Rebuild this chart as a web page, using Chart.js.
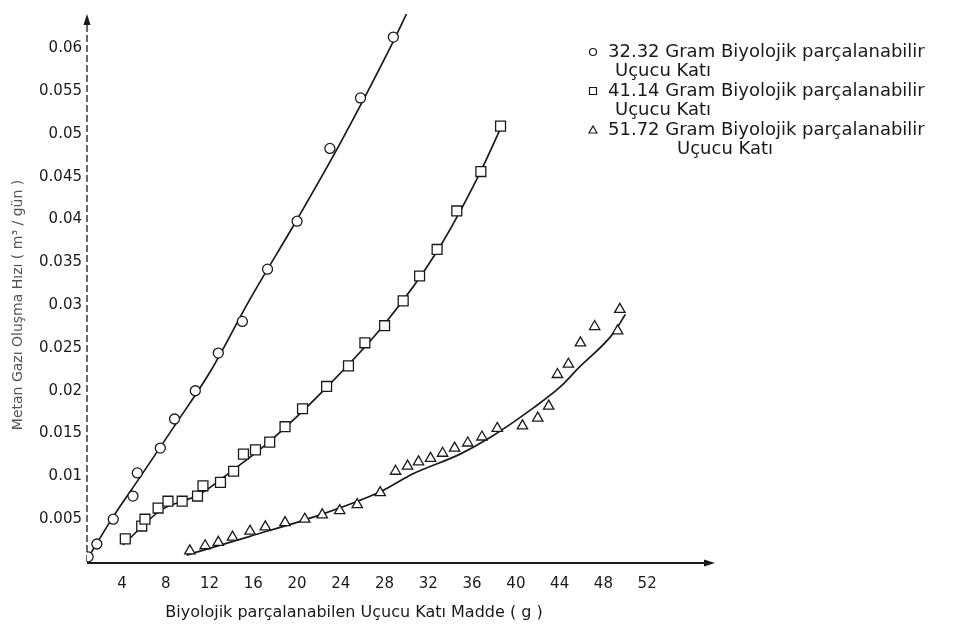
<!DOCTYPE html>
<html>
<head>
<meta charset="utf-8">
<title>Biyolojik parçalanabilen Uçucu Katı Madde</title>
<script src="https://cdn.jsdelivr.net/npm/chart.js@4.4.1/dist/chart.umd.min.js"></script>
<style>
  html, body { margin: 0; padding: 0; background: #fff; }
</style>
</head>
<body>
<canvas id="chart" width="966" height="643"></canvas>
<script>
// 32.32 g — ölçüm noktaları
let x32 = [0.9, 1.7, 3.2, 5.0, 5.4, 7.5, 8.8, 10.7, 12.8, 15.0, 17.3, 20.0, 23.0, 25.8, 28.8];
let y32 = [0.0006, 0.0021, 0.0050, 0.0077, 0.0104, 0.0133, 0.0167, 0.0200, 0.0244, 0.0281, 0.0342, 0.0398, 0.0483, 0.0542, 0.0613];

// 41.14 g
let x41 = [4.3, 5.8, 6.1, 7.3, 8.2, 9.5, 10.9, 11.4, 13.0, 14.2, 15.1, 16.2, 17.5, 18.9, 20.5, 22.7, 24.7, 26.2, 28.0, 29.7, 31.2, 32.8, 34.6, 36.8, 38.6];
let y41 = [0.0027, 0.0042, 0.0050, 0.0063, 0.0071, 0.0071, 0.0077, 0.0089, 0.0093, 0.0106, 0.0126, 0.0131, 0.0140, 0.0158, 0.0179, 0.0205, 0.0229, 0.0256, 0.0276, 0.0305, 0.0334, 0.0365, 0.0410, 0.0456, 0.0509];

// 51.72 g
let x51 = [10.2, 11.6, 12.8, 14.1, 15.7, 17.1, 18.9, 20.7, 22.3, 23.9, 25.5, 27.6, 29.0, 30.1, 31.1, 32.2, 33.3, 34.4, 35.6, 36.9, 38.3, 40.6, 42.0, 43.0, 43.8, 44.8, 45.9, 47.2, 49.3, 49.5];
let y51 = [0.0013, 0.0019, 0.0023, 0.0029, 0.0036, 0.0041, 0.0046, 0.0050, 0.0055, 0.0060, 0.0067, 0.0081, 0.0106, 0.0112, 0.0117, 0.0121, 0.0127, 0.0133, 0.0139, 0.0146, 0.0156, 0.0159, 0.0168, 0.0182, 0.0219, 0.0231, 0.0256, 0.0275, 0.0270, 0.0295];

// elle çizilmiş eğriler
let fit32X = [0.9, 3.2, 5.7, 8.8, 12.1, 15.7, 20.0, 23.9, 28.8, 30.0];
let fit32Y = [0.0005, 0.0053, 0.0100, 0.0159, 0.0223, 0.0307, 0.0400, 0.0488, 0.0608, 0.0640];
let fit41X = [4.1, 7.5, 11.1, 14.1, 17.5, 22.7, 28.0, 32.8, 36.7, 38.8];
let fit41Y = [0.0020, 0.0060, 0.0079, 0.0107, 0.0141, 0.0204, 0.0278, 0.0363, 0.0454, 0.0512];
let fit51X = [9.9, 15.7, 22.1, 27.6, 30.6, 34.9, 37.6, 41.6, 44.1, 45.6, 48.9, 50.0];
let fit51Y = [0.0008, 0.0030, 0.0055, 0.0082, 0.0103, 0.0126, 0.0145, 0.0180, 0.0205, 0.0225, 0.0267, 0.0289];

let xTicks = [4, 8, 12, 16, 20, 24, 28, 32, 36, 40, 44, 48, 52];
let yTicks = [0.005, 0.01, 0.015, 0.02, 0.025, 0.03, 0.035, 0.04, 0.045, 0.05, 0.055, 0.06];

let xTitle = 'Biyolojik parçalanabilen Uçucu Katı Madde ( g )';
let yTitle = 'Metan Gazı Oluşma Hızı ( m³ / gün )';

let legendItems = [
  { style: 'circle', lines: ['32.32 Gram Biyolojik parçalanabilir', 'Uçucu Katı'] },
  { style: 'rect', lines: ['41.14 Gram Biyolojik parçalanabilir', 'Uçucu Katı'] },
  { style: 'triangle', lines: ['51.72 Gram Biyolojik parçalanabilir', 'Uçucu Katı'] }
];

const FONT = "'DejaVu Sans', sans-serif";
const INK = '#1a1a1a';

function toPoints(xs, ys) {
  return xs.map((x, i) => ({ x: x, y: ys[i] }));
}

function markers(label, xs, ys, style, r) {
  return {
    label: label,
    data: toPoints(xs, ys),
    showLine: false,
    pointStyle: style,
    pointRadius: r,
    pointBorderWidth: 1.3,
    pointBorderColor: INK,
    pointBackgroundColor: '#fff',
    order: 0
  };
}

function curve(xs, ys) {
  return {
    data: toPoints(xs, ys),
    showLine: true,
    borderColor: INK,
    borderWidth: 1.7,
    pointRadius: 0,
    cubicInterpolationMode: 'monotone',
    order: 1
  };
}

function marker(ctx, style, x, y) {
  ctx.beginPath();
  if (style === 'circle') {
    ctx.arc(x, y, 3.5, 0, Math.PI * 2);
  } else if (style === 'rect') {
    ctx.rect(x - 3.5, y - 3.5, 7, 7);
  } else {
    ctx.moveTo(x, y - 4);
    ctx.lineTo(x + 4, y + 3);
    ctx.lineTo(x - 4, y + 3);
    ctx.closePath();
  }
  ctx.stroke();
}

// eksen çizgileri, oklar, eksen başlıkları ve açıklama
const decor = {
  id: 'decor',
  beforeDatasetsDraw(chart) {
    const { ctx, chartArea: a } = chart;
    ctx.save();
    ctx.strokeStyle = INK;
    ctx.fillStyle = INK;

    ctx.lineWidth = 1.3;
    ctx.setLineDash([7, 3]);
    ctx.beginPath();
    ctx.moveTo(a.left, a.bottom);
    ctx.lineTo(a.left, a.top + 8);
    ctx.stroke();
    ctx.setLineDash([]);
    ctx.beginPath();
    ctx.moveTo(a.left, a.top);
    ctx.lineTo(a.left - 3.5, a.top + 11);
    ctx.lineTo(a.left + 3.5, a.top + 11);
    ctx.closePath();
    ctx.fill();

    ctx.lineWidth = 2;
    ctx.beginPath();
    ctx.moveTo(a.left, a.bottom + 1);
    ctx.lineTo(a.right - 8, a.bottom + 1);
    ctx.stroke();
    ctx.beginPath();
    ctx.moveTo(a.right, a.bottom + 1);
    ctx.lineTo(a.right - 11, a.bottom - 2.5);
    ctx.lineTo(a.right - 11, a.bottom + 4.5);
    ctx.closePath();
    ctx.fill();

    // eksen başlıkları
    ctx.textAlign = 'center';
    ctx.textBaseline = 'middle';
    ctx.font = '16px ' + FONT;
    ctx.fillText(xTitle, 354, 613);
    ctx.save();
    ctx.translate(18, 305);
    ctx.rotate(-Math.PI / 2);
    ctx.fillStyle = '#555';
    ctx.font = '14px ' + FONT;
    ctx.fillText(yTitle, 0, 0);
    ctx.restore();
    ctx.restore();
  },
  afterDraw(chart) {
    const ctx = chart.ctx;
    ctx.save();
    ctx.strokeStyle = INK;
    ctx.fillStyle = INK;
    ctx.lineWidth = 1.2;
    ctx.font = '18px ' + FONT;
    ctx.textBaseline = 'middle';
    let y = 52;
    legendItems.forEach((item, i) => {
      marker(ctx, item.style, 593, y);
      ctx.fillText(item.lines[0], 608, y);
      ctx.fillText(item.lines[1], i === 2 ? 677 : 615, y + 19);
      y += 39;
    });
    ctx.restore();
  }
};

new Chart(document.getElementById('chart'), {
  type: 'scatter',
  data: {
    datasets: [
      markers('32.32 Gram', x32, y32, 'circle', 5),
      markers('41.14 Gram', x41, y41, 'rect', 7),
      markers('51.72 Gram', x51, y51, 'triangle', 6),
      curve(fit32X, fit32Y),
      curve(fit41X, fit41Y),
      curve(fit51X, fit51Y)
    ]
  },
  options: {
    responsive: false,
    animation: false,
    layout: { padding: { top: 13, right: 251, bottom: 0, left: 0 } },
    plugins: {
      legend: { display: false },
      tooltip: { enabled: false }
    },
    scales: {
      x: {
        type: 'linear',
        min: 0.8,
        max: 58.2,
        grid: { display: false, drawTicks: false },
        border: { display: false },
        afterBuildTicks: (scale) => { scale.ticks = xTicks.map(v => ({ value: v })); },
        afterFit: (scale) => { scale.height = 81; },
        ticks: {
          autoSkip: false,
          maxRotation: 0,
          padding: 13,
          color: INK,
          font: { family: FONT, size: 15 },
          callback: (v) => String(v)
        }
      },
      y: {
        type: 'linear',
        min: 0,
        max: 0.064,
        grid: { display: false, drawTicks: false },
        border: { display: false },
        afterBuildTicks: (scale) => { scale.ticks = yTicks.map(v => ({ value: v })); },
        afterFit: (scale) => { scale.width = 87; },
        ticks: {
          autoSkip: false,
          padding: 5,
          color: INK,
          font: { family: FONT, size: 15 },
          callback: (v) => String(v)
        }
      }
    }
  },
  plugins: [decor]
});
</script>
</body>
</html>
